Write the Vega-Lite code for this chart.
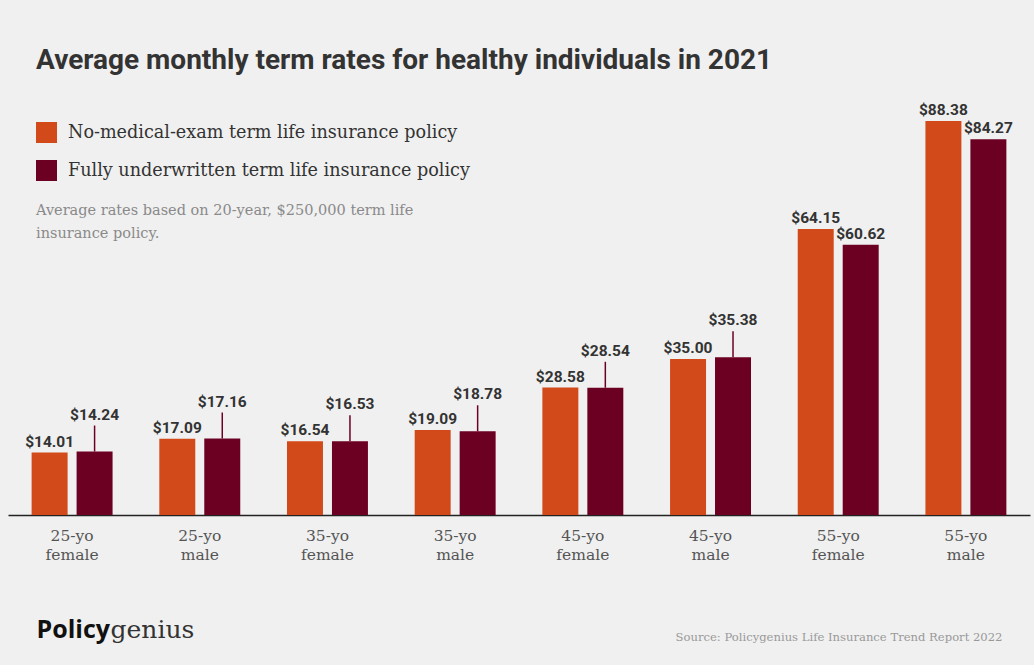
{
  "$schema": "https://vega.github.io/schema/vega-lite/v6.json",
  "width": 1022,
  "height": 415,
  "autosize": {"type": "none"},
  "padding": {"left": 8, "top": 100, "right": 4, "bottom": 150},
  "background": "#f0f0f0",
  "config": {"view": {"stroke": null}},
  "title": {
    "text": "Average monthly term rates for healthy individuals in 2021",
    "anchor": "start",
    "frame": "group",
    "dx": 28,
    "offset": 25,
    "font": "Roboto",
    "fontSize": 28,
    "fontWeight": "bold",
    "color": "#333333"
  },
  "data": {
    "values": [
      {"group": "25-yo female", "series": "No-medical-exam term life insurance policy", "value": 14.01},
      {"group": "25-yo female", "series": "Fully underwritten term life insurance policy", "value": 14.24},
      {"group": "25-yo male", "series": "No-medical-exam term life insurance policy", "value": 17.09},
      {"group": "25-yo male", "series": "Fully underwritten term life insurance policy", "value": 17.16},
      {"group": "35-yo female", "series": "No-medical-exam term life insurance policy", "value": 16.54},
      {"group": "35-yo female", "series": "Fully underwritten term life insurance policy", "value": 16.53},
      {"group": "35-yo male", "series": "No-medical-exam term life insurance policy", "value": 19.09},
      {"group": "35-yo male", "series": "Fully underwritten term life insurance policy", "value": 18.78},
      {"group": "45-yo female", "series": "No-medical-exam term life insurance policy", "value": 28.58},
      {"group": "45-yo female", "series": "Fully underwritten term life insurance policy", "value": 28.54},
      {"group": "45-yo male", "series": "No-medical-exam term life insurance policy", "value": 35.00},
      {"group": "45-yo male", "series": "Fully underwritten term life insurance policy", "value": 35.38},
      {"group": "55-yo female", "series": "No-medical-exam term life insurance policy", "value": 64.15},
      {"group": "55-yo female", "series": "Fully underwritten term life insurance policy", "value": 60.62},
      {"group": "55-yo male", "series": "No-medical-exam term life insurance policy", "value": 88.38},
      {"group": "55-yo male", "series": "Fully underwritten term life insurance policy", "value": 84.27}
    ]
  },
  "encoding": {
    "x": {
      "field": "group",
      "type": "nominal",
      "sort": null,
      "scale": {"paddingInner": 0.366, "paddingOuter": 0.185},
      "axis": {
        "orient": "bottom",
        "labelExpr": "split(datum.label, ' ')",
        "labelAngle": 0,
        "labelFont": "DejaVu Serif",
        "labelFontSize": 15.5,
        "labelColor": "#555555",
        "labelPadding": 13,
        "labelLineHeight": 19,
        "labelBaseline": "top",
        "ticks": false,
        "domainColor": "#222222",
        "domainWidth": 1.5,
        "title": "Source: Policygenius Life Insurance Trend Report 2022",
        "titleFont": "DejaVu Serif",
        "titleFontSize": 11.6,
        "titleFontWeight": "normal",
        "titleColor": "#999999",
        "titleAnchor": "end",
        "titleAlign": "right",
        "titleBaseline": "alphabetic",
        "titleX": 994,
        "titleY": 125
      }
    },
    "xOffset": {
      "field": "series",
      "type": "nominal",
      "sort": ["No-medical-exam term life insurance policy", "Fully underwritten term life insurance policy"],
      "scale": {"paddingInner": 0.2}
    }
  },
  "layer": [
    {
      "mark": {"type": "bar"},
      "encoding": {
        "y": {
          "field": "value",
          "type": "quantitative",
          "scale": {"domain": [0, 93.1], "nice": false, "zero": true},
          "axis": {
            "orient": "left",
            "labels": false,
            "ticks": false,
            "domain": false,
            "grid": false,
            "title": "Policy",
            "titleAngle": 0,
            "titleX": 28,
            "titleY": 537,
            "titleAlign": "left",
            "titleBaseline": "alphabetic",
            "titleFont": "Open Sans",
            "titleFontSize": 25,
            "titleFontWeight": "bold",
            "titleColor": "#111111"
          }
        },
        "color": {
          "field": "series",
          "type": "nominal",
          "scale": {
            "domain": ["No-medical-exam term life insurance policy", "Fully underwritten term life insurance policy"],
            "range": ["#d2491a", "#6b0022"]
          },
          "legend": {
            "orient": "none",
            "legendX": 28,
            "legendY": 22,
            "direction": "vertical",
            "symbolType": "square",
            "symbolSize": 441,
            "symbolStrokeWidth": 0,
            "symbolOpacity": 1,
            "labelFont": "DejaVu Serif",
            "labelFontSize": 17.6,
            "labelColor": "#333333",
            "labelOffset": 11,
            "labelLimit": 0,
            "rowPadding": 17,
            "title": ["Average rates based on 20-year, $250,000 term life", "insurance policy."],
            "titleOrient": "bottom",
            "titleFont": "DejaVu Serif",
            "titleFontSize": 14.5,
            "titleFontWeight": "normal",
            "titleColor": "#8a8a8a",
            "titleLineHeight": 23,
            "titlePadding": 23,
            "titleLimit": 0
          }
        }
      }
    },
    {
      "transform": [{"filter": "!(datum.series == 'Fully underwritten term life insurance policy' && datum.value < 50)"}],
      "mark": {"type": "text", "baseline": "alphabetic", "dy": -6, "font": "Roboto", "fontSize": 15.5, "fontWeight": "bold", "color": "#333333"},
      "encoding": {
        "y": {
          "field": "value",
          "type": "quantitative",
          "scale": {"domain": [0, 93.1], "nice": false, "zero": true},
          "axis": {
            "orient": "right",
            "labels": false,
            "ticks": false,
            "domain": false,
            "grid": false,
            "title": "genius",
            "titleAngle": 0,
            "titleX": -920,
            "titleY": 537,
            "titleAlign": "left",
            "titleBaseline": "alphabetic",
            "titleFont": "DejaVu Serif",
            "titleFontSize": 25,
            "titleFontWeight": "normal",
            "titleColor": "#333333"
          }
        },
        "text": {"field": "value", "type": "quantitative", "format": "$.2f"}
      }
    },
    {
      "transform": [{"filter": "datum.series == 'Fully underwritten term life insurance policy' && datum.value < 50"}],
      "mark": {"type": "rule", "y2Offset": -26, "color": "#6b0022", "strokeWidth": 1.5},
      "encoding": {
        "y": {"field": "value", "type": "quantitative", "axis": null},
        "y2": {"field": "value"}
      }
    },
    {
      "transform": [{"filter": "datum.series == 'Fully underwritten term life insurance policy' && datum.value < 50"}],
      "mark": {"type": "text", "baseline": "alphabetic", "dy": -32, "font": "Roboto", "fontSize": 15.5, "fontWeight": "bold", "color": "#333333"},
      "encoding": {
        "y": {"field": "value", "type": "quantitative", "axis": null},
        "text": {"field": "value", "type": "quantitative", "format": "$.2f"}
      }
    }
  ],
  "resolve": {"axis": {"y": "independent"}}
}
